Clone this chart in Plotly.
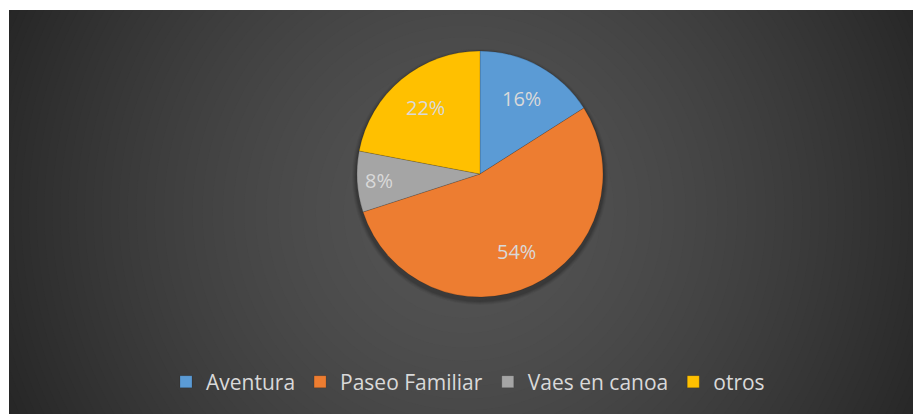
import math
import plotly.graph_objects as go

# ---- data ----
categories = ["Aventura", "Paseo Familiar", "Vaes en canoa", "otros"]
values = [16, 54, 8, 22]
colors = ["#5B9BD5", "#ED7D31", "#A5A5A5", "#FFC000"]

W, H = 921, 414
OFF = 8  # page body margin in the browser
# chart area (dark) in screen pixels
AX0, AY0 = 9, 10
# pie geometry in screen pixels
CX, CY, R = 480, 174, 123


def px_x(x):
    return (x - OFF) / W


def px_y(y):
    return 1 - (y - OFF) / H


fig = go.Figure()
fig.add_trace(go.Pie(
    labels=categories,
    values=values,
    sort=False,
    direction="clockwise",
    rotation=0,
    marker=dict(colors=colors, line=dict(color="rgba(0,0,0,0.25)", width=0.6)),
    textinfo="none",
    hoverinfo="label+percent",
    domain=dict(x=[px_x(CX - R), px_x(CX + R)], y=[px_y(CY + R), px_y(CY - R)]),
    showlegend=True,
))

# ---- background: radial gradient via concentric circles ----
shapes = []
GX, GY = (AX0 + W) / 2, (AY0 + H) / 2
L_OUT, L_IN = 38, 84


def gray(l):
    l = int(round(l))
    return f"rgb({l},{l},{l})"


shapes.append(dict(type="rect", xref="paper", yref="paper", x0=0, x1=1, y0=0, y1=1,
                   fillcolor=gray(L_OUT), line=dict(width=0), layer="below"))
for lev in range(L_OUT + 1, L_IN + 1):
    d = 500 * ((L_IN - (lev - 0.5)) / (L_IN - L_OUT)) ** (1 / 1.5)
    shapes.append(dict(type="circle", xref="paper", yref="paper",
                       x0=px_x(GX - d), x1=px_x(GX + d),
                       y0=px_y(GY + d), y1=px_y(GY - d),
                       fillcolor=gray(lev), line=dict(width=0), layer="below"))
# thin white outer margins
shapes.append(dict(type="rect", xref="paper", yref="paper", x0=-0.01, x1=1.01,
                   y0=px_y(AY0), y1=1.01, fillcolor="white", line=dict(width=0), layer="below"))
shapes.append(dict(type="rect", xref="paper", yref="paper", x0=-0.01, x1=px_x(AX0),
                   y0=-0.01, y1=1.01, fillcolor="white", line=dict(width=0), layer="below"))
# soft shadow under pie
for dr, op in [(5, 0.05), (4, 0.06), (3, 0.08), (2, 0.1)]:
    rr = R + dr
    cy = CY + 3
    shapes.append(dict(type="circle", xref="paper", yref="paper",
                       x0=px_x(CX - rr), x1=px_x(CX + rr),
                       y0=px_y(cy + rr), y1=px_y(cy - rr),
                       fillcolor=f"rgba(0,0,0,{op})", line=dict(width=0), layer="below"))

# ---- data labels ----
total = sum(values)
annotations = []
cum = 0
for v in values:
    frac = v / total
    mid = (cum + v / 2) / total * 2 * math.pi
    cum += v
    rl = (0.70 + 0.12 * max(0.0, 0.15 - frac) / 0.07) * R
    lx = CX + rl * math.sin(mid)
    ly = CY - rl * math.cos(mid)
    annotations.append(dict(x=px_x(lx), y=px_y(ly), xref="paper", yref="paper",
                            xanchor="center", yanchor="middle",
                            text=f"{frac:.0%}", showarrow=False,
                            font=dict(family="Open Sans", size=20, color="#D9D9D9")))

fig.update_layout(
    width=W, height=H,
    margin=dict(l=0, r=0, t=0, b=0),
    paper_bgcolor="white",
    plot_bgcolor="rgba(0,0,0,0)",
    shapes=shapes,
    annotations=annotations,
    legend=dict(orientation="h", x=px_x(468), xanchor="center", y=px_y(382), yanchor="middle",
                font=dict(family="Open Sans", size=21, color="#D9D9D9"),
                bgcolor="rgba(0,0,0,0)", itemclick=False),
    font=dict(family="Open Sans"),
)

fig.write_html("out.html")
